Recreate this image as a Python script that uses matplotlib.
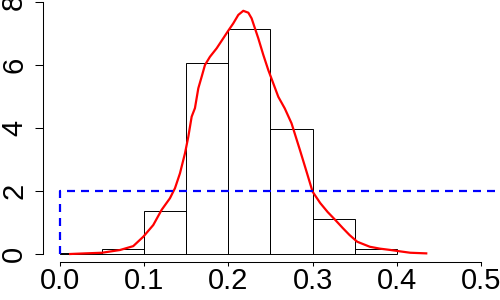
import matplotlib
matplotlib.use("Agg")
import matplotlib.pyplot as plt
import numpy as np

# histogram (density scale), bin width 0.05
bin_left = [0.0, 0.05, 0.10, 0.15, 0.20, 0.25, 0.30, 0.35]
density = [0.03, 0.15, 1.36, 6.05, 7.13, 3.97, 1.10, 0.15]

# kernel density estimate
kde_x = [0.012, 0.03, 0.05, 0.0713, 0.087, 0.099, 0.1108, 0.1207, 0.1306, 0.1366,
         0.1425, 0.1485, 0.1524, 0.1564, 0.1603, 0.1643, 0.1683, 0.1722, 0.1781,
         0.1861, 0.194, 0.1999, 0.2058, 0.2118, 0.2177, 0.2237, 0.2276, 0.2316,
         0.2355, 0.2415, 0.2474, 0.2533, 0.2593, 0.267, 0.275, 0.285, 0.293, 0.30,
         0.309, 0.318, 0.327, 0.336, 0.344, 0.353, 0.368, 0.38, 0.392, 0.405, 0.416, 0.435]
kde_y = [0.0, 0.02, 0.04, 0.127, 0.25, 0.55, 0.92, 1.40, 1.77, 2.09,
         2.56, 3.20, 3.72, 4.36, 4.63, 5.26, 5.63, 6.0, 6.26,
         6.53, 6.85, 7.09, 7.32, 7.59, 7.72, 7.66, 7.48, 7.16,
         6.85, 6.32, 5.84, 5.42, 4.99, 4.62, 4.15, 3.3, 2.6, 1.98,
         1.62, 1.33, 1.08, 0.82, 0.6, 0.39, 0.23, 0.17, 0.13, 0.08, 0.04, 0.02]

# uniform(0, 0.5) reference density
unif_x = [0.0, 0.0, 0.6]
unif_y = [0.0, 2.0, 2.0]

plt.rcParams['font.family'] = ['Liberation Sans', 'DejaVu Sans']

fig = plt.figure(figsize=(5, 3), dpi=100)
ax = fig.add_axes([0.0866, 0.1257, 0.9134, 0.8743])

ax.bar(bin_left, density, width=0.05, align='edge', fill=False,
       edgecolor='black', linewidth=0.7, snap=True)
ax.plot(kde_x, kde_y, color='red', linewidth=1.6)
ax.plot(unif_x, unif_y, color='blue', linewidth=1.6, dashes=(3.6, 2.7))

ax.set_xlim(-0.0198, 0.5226)
ax.set_ylim(-0.263, 8.063)
ax.set_xticks(np.arange(0, 0.51, 0.1))
ax.set_xticklabels(['0.0', '0.1', '0.2', '0.3', '0.4', '0.5'])
ax.set_yticks([0, 2, 4, 6, 8])
ax.set_yticklabels(['0', '2', '4', '6', '8'], rotation=90, va='center')

for s in ['top', 'right']:
    ax.spines[s].set_visible(False)
ax.spines['left'].set_bounds(0, 8)
ax.spines['bottom'].set_bounds(0, 0.5)
for s in ['left', 'bottom']:
    ax.spines[s].set_linewidth(0.75)
ax.tick_params(width=0.75, labelsize=21)
ax.tick_params(axis='x', length=3, pad=0.5)
ax.tick_params(axis='y', length=6, pad=5)

fig.savefig('out.png', dpi=100)
